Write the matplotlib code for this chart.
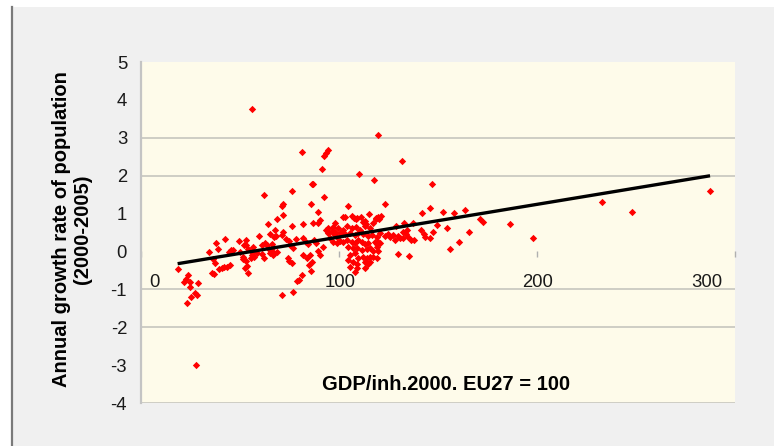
import matplotlib
matplotlib.use('Agg')
import matplotlib.pyplot as plt
import matplotlib.transforms as mtransforms
from matplotlib.patches import Rectangle
from matplotlib.lines import Line2D

# ---- data (GDP/inh 2000, EU27=100 ; annual growth %) ----
gdp_top = [55.9, 119.5, 81.2, 94.3, 93.3, 92.3, 91.6, 131.8, 110.1, 117.7, 146.8, 86.2, 86.8,
           62.3, 76.4, 92.4, 123.4, 85.7, 71.9, 71.1, 104.5, 145.8, 71.9, 89.5, 68.8, 90.6,
           89.5, 101.9, 102.9, 106.6, 107.7, 109.2, 108.6, 115.0, 119.5, 121.4, 120.4, 118.7,
           142.1, 132.8, 113.1, 113.5, 76.4, 82.0, 64.3, 86.7, 98.1, 137.5, 149.6]
growth_top = [3.75, 3.07, 2.63, 2.68, 2.59, 2.52, 2.18, 2.38, 2.04, 1.89, 1.79, 1.79, 1.79,
              1.50, 1.60, 1.45, 1.25, 1.25, 1.25, 1.19, 1.20, 1.15, 0.96, 1.05, 0.86, 0.83,
              0.76, 0.91, 0.91, 0.94, 0.89, 0.89, 0.85, 1.00, 0.92, 0.94, 0.86, 0.86,
              1.01, 0.76, 0.80, 0.73, 0.67, 0.72, 0.72, 0.76, 0.74, 0.74, 0.70]

gdp_left = [65.3, 67.3, 59.6, 62.5, 42.6, 38.0, 39.0, 49.3, 53.2, 53.2, 54.2, 34.2, 45.5, 44.6,
            51.9, 56.2, 57.2, 55.6, 61.0, 62.0, 65.7, 51.4, 36.2, 37.4, 36.0, 37.0, 39.5, 40.8,
            42.1, 43.6, 44.8, 53.2, 53.7, 52.5, 54.2, 55.9, 18.5, 23.9, 22.9, 21.9, 24.7, 28.6,
            24.9, 27.3, 28.4, 25.3, 23.1, 27.9,
            71.0, 76.9, 46.6, 50.0, 51.7, 56.7, 58.4, 61.0, 65.2, 63.5, 66.8, 64.0, 66.3, 67.0]
growth_left = [0.45, 0.39, 0.41, 0.22, 0.32, 0.22, 0.07, 0.28, 0.31, 0.17, 0.07, -0.02, 0.03, -0.01,
               0.17, -0.09, -0.14, -0.18, -0.07, -0.16, 0.01, -0.20, -0.21, -0.31, -0.58, -0.60, -0.46, -0.44,
               -0.41, -0.40, -0.37, -0.25, -0.38, -0.43, -0.58, -0.01, -0.47, -0.62, -0.74, -0.81, -0.80, -0.82,
               -0.95, -1.10, -1.15, -1.21, -1.35, -3.01,
               0.44, 0.08, 0.04, -0.01, -0.14, 0.13, -0.05, 0.17, -0.05, 0.17, 0.13, 0.08, 0.19, -0.05]

gdp_mid = [67.8, 71.9, 68.2, 73.2, 74.6, 78.3, 75.3, 82.0, 83.3, 84.2, 87.5, 88.4, 93.4, 94.6, 96.3,
           97.6, 98.8, 111.0, 112.3, 74.4, 74.9, 76.1, 82.0, 83.7, 85.4, 86.2, 85.0, 81.2, 80.0, 78.6,
           85.7, 71.0, 76.6, 68.5, 66.8, 89.6, 90.4, 92.1,
           94.6, 97.1, 99.7, 102.2, 103.9, 106.4, 108.6, 110.6, 113.1, 115.7, 117.3, 118.7,
           98.0, 100.5, 103.0, 105.6, 108.1, 109.8, 112.3, 114.8, 116.5,
           95.5, 97.1, 98.8, 100.5, 102.2, 104.2, 106.4, 108.1, 109.8, 111.5, 113.1, 114.8,
           104.7, 107.2, 109.2, 111.5, 114.0, 115.7,
           105.6, 108.1, 109.8, 112.3, 114.0, 104.7, 107.2, 109.2, 113.1, 114.8,
           105.6, 108.9, 113.1, 108.1,
           118.2, 119.0, 119.8, 115.7, 117.3, 119.0, 115.7, 117.3]
growth_mid = [0.57, 0.52, 0.41, 0.32, 0.28, 0.32, 0.17, 0.35, 0.26, 0.20, 0.31, 0.21, 0.56, 0.48, 0.54,
              0.47, 0.39, 0.91, 0.79, -0.18, -0.25, -0.31, -0.09, -0.18, -0.09, -0.27, -0.36, -0.62, -0.76, -0.78,
              -0.51, -1.15, -1.06, -0.01, -0.09, 0.00, -0.09, 0.13,
              0.61, 0.65, 0.61, 0.57, 0.68, 0.61, 0.65, 0.57, 0.68, 0.63, 0.74, 0.88,
              0.52, 0.48, 0.45, 0.48, 0.44, 0.48, 0.45, 0.42, 0.44,
              0.35, 0.26, 0.22, 0.28, 0.24, 0.30, 0.26, 0.22, 0.30, 0.24, 0.19, 0.22,
              0.13, 0.08, 0.10, 0.04, 0.07, 0.10,
              -0.09, -0.05, -0.18, -0.14, -0.18, -0.22, -0.27, -0.34, -0.28, -0.34,
              -0.40, -0.44, -0.44, -0.53,
              0.26, 0.13, 0.00, -0.14, 0.00, -0.18, -0.27, -0.14]

gdp_right = [152.7, 158.1, 163.6, 171.2, 172.9, 128.6, 134.2, 132.5, 133.7, 141.4, 154.4, 147.6,
             143.1, 143.4, 146.0, 124.9, 123.2, 125.8, 127.4, 130.0, 132.5, 135.0, 136.2, 137.9,
             128.3, 130.8, 119.0, 120.7, 119.8, 120.7, 119.0, 165.5, 160.8, 156.1, 130.0, 135.5,
             287.4, 233.0, 248.0, 198.1, 186.2]
growth_right = [1.05, 1.01, 1.10, 0.86, 0.77, 0.68, 0.57, 0.52, 0.45, 0.57, 0.61, 0.52,
                0.45, 0.39, 0.36, 0.45, 0.42, 0.39, 0.44, 0.42, 0.35, 0.39, 0.31, 0.31,
                0.31, 0.35, 0.39, 0.48, 0.26, 0.22, 0.19, 0.51, 0.26, 0.07, -0.07, -0.13,
                1.60, 1.30, 1.05, 0.36, 0.72]

gdp = gdp_top + gdp_left + gdp_mid + gdp_right
growth = growth_top + growth_left + growth_mid + growth_right

# linear trend
trend_slope = 0.00863
trend_intercept = -0.483

x_ticks = [0, 100, 200, 300]
x_tick_labels = ['0', '100', '200', '300']
y_ticks = [-4, -3, -2, -1, 0, 1, 2, 3, 4, 5]
y_tick_labels = ['-4', '-3', '-2', '-1', '0', '1', '2', '3', '4', '5']
grid_levels = [3, 2, -1, -2, -4]

plt.rcParams['font.family'] = ['Liberation Sans', 'DejaVu Sans']

W, H = 774, 446
fig = plt.figure(figsize=(W / 100, H / 100), dpi=100)
fig.patch.set_facecolor('white')
fig.patches.append(Rectangle((13 / W, 0), 1 - 13 / W, 1 - 7 / H, transform=fig.transFigure,
                             facecolor='#f0f0f0', edgecolor='none', zorder=-10))
fig.lines.append(Line2D([12 / W, 12 / W], [0, 1 - 7 / H], transform=fig.transFigure,
                        color='#7a7a7a', lw=1.6, zorder=-5))

ax = fig.add_axes([141 / W, 1 - 403 / H, (735 - 141) / W, (403 - 62) / H])
ax.set_zorder(5)
ax.set_facecolor('#fefbea')
ax.set_xlim(0, 300)
ax.set_ylim(-4, 5)

for g in grid_levels:
    ax.axhline(g, color='#c6c6be', lw=1.2, zorder=1)

ax.spines['top'].set_visible(False)
ax.spines['right'].set_visible(False)
ax.spines['left'].set_color('#c4c4c4')
ax.spines['left'].set_linewidth(1.6)
ax.spines['bottom'].set_position(('data', 0))
ax.spines['bottom'].set_visible(False)

ax.scatter(gdp, growth, marker='D', s=14, color='#ff0000', linewidths=0, zorder=3)

x0, x1 = min(gdp), max(gdp)
ax.plot([x0, x1], [trend_slope * x0 + trend_intercept, trend_slope * x1 + trend_intercept],
        color='black', lw=2.4, zorder=4, solid_capstyle='butt')

ax.set_yticks(y_ticks, y_tick_labels)
ax.set_xticks(x_ticks, x_tick_labels)
ax.tick_params(axis='y', length=0, pad=10, labelsize=13.3, labelcolor='#1a1a1a')
ax.tick_params(axis='x', direction='out', length=4, width=1, color='#b0b0b0',
               pad=12.5, labelsize=13.3, labelcolor='#1a1a1a')

ax.set_xlabel('GDP/inh.2000. EU27 = 100', fontsize=14.5, fontweight='bold', va='center')
ax.xaxis.set_label_coords((446 - 141) / 594, (403 - 384) / 341)
ax.set_ylabel('Annual growth rate of population\n(2000-2005)', fontsize=14.5,
              fontweight='bold', va='center', linespacing=1.15)
ax.yaxis.set_label_coords((72 - 141) / 594, (403 - 229) / 341)

# shift edge tick labels inward like the original
offsets_px = [13, 1, 1, -28]
for tick, dx in zip(ax.xaxis.get_major_ticks(), offsets_px):
    tick.label1.set_transform(tick.label1.get_transform() +
                              mtransforms.ScaledTranslation(dx / 100, 0, fig.dpi_scale_trans))

fig.savefig('out.png', dpi=100, facecolor=fig.get_facecolor())
